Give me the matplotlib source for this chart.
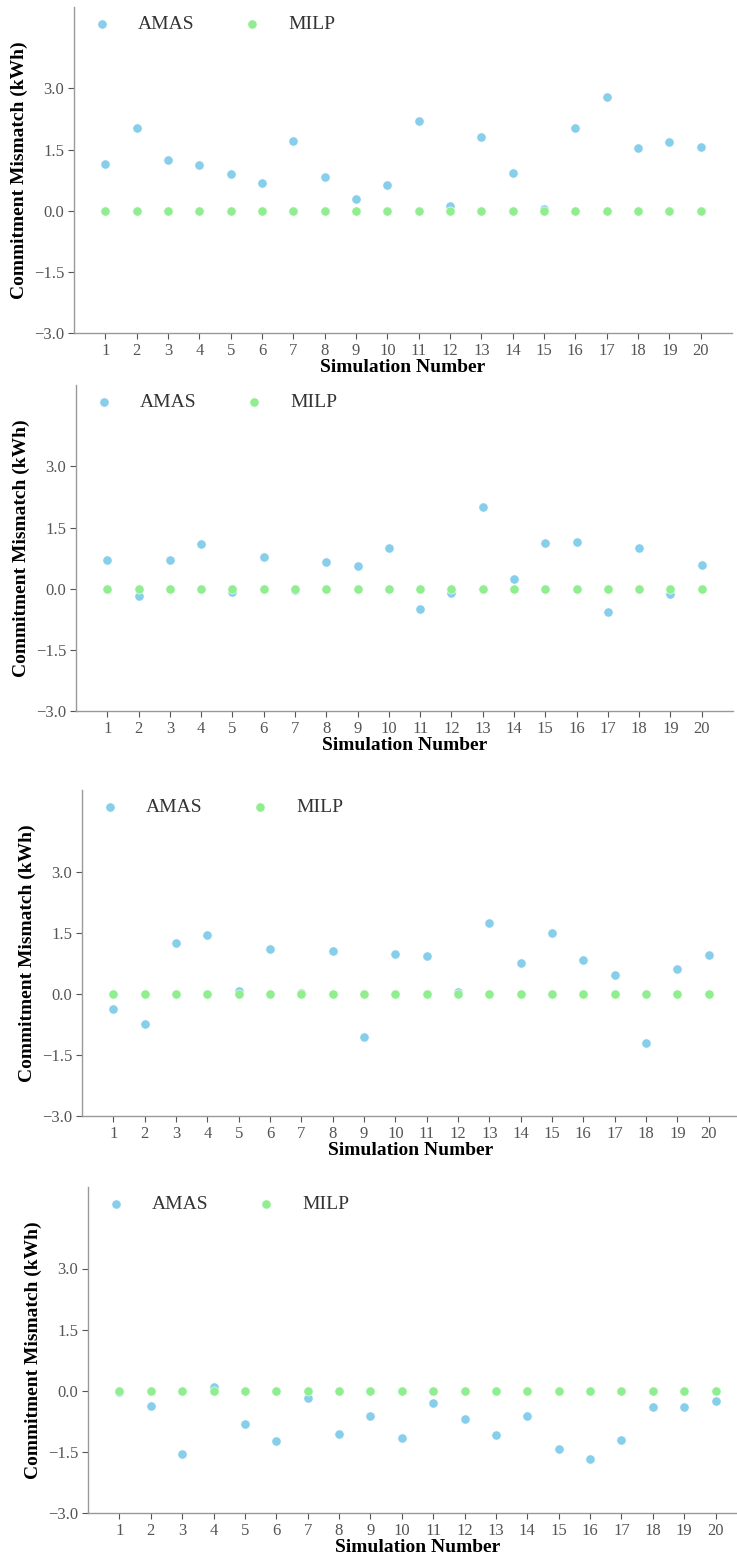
"""Commitment mismatch per simulation: AMAS vs MILP, four scenarios stacked."""

import matplotlib

matplotlib.use("Agg")
import matplotlib.pyplot as plt

sims = [1, 2, 3, 4, 5, 6, 7, 8, 9, 10, 11, 12, 13, 14, 15, 16, 17, 18, 19, 20]

amas_1 = [1.14, 2.04, 1.24, 1.12, 0.89, 0.68, 1.70, 0.84, 0.30, 0.63,
          2.21, 0.11, 1.80, 0.92, 0.04, 2.04, 2.80, 1.55, 1.68, 1.57]
amas_2 = [0.70, -0.18, 0.70, 1.10, -0.08, 0.78, -0.04, 0.65, 0.55, 1.01,
          -0.50, -0.11, 2.00, 0.23, 1.12, 1.14, -0.57, 0.99, -0.14, 0.59]
amas_3 = [-0.37, -0.75, 1.24, 1.44, 0.06, 1.10, 0.02, 1.06, -1.07, 0.97,
          0.92, 0.04, 1.74, 0.75, 1.50, 0.82, 0.46, -1.20, 0.61, 0.95]
amas_4 = [-0.03, -0.38, -1.55, 0.10, -0.82, -1.24, -0.19, -1.07, -0.61, -1.16,
          -0.29, -0.69, -1.09, -0.63, -1.43, -1.68, -1.22, -0.40, -0.40, -0.25]
milp = [0.0, 0.0, 0.0, 0.0, 0.0, 0.0, 0.0, 0.0, 0.0, 0.0,
        0.0, 0.0, 0.0, 0.0, 0.0, 0.0, 0.0, 0.0, 0.0, 0.0]

y_ticks = [-3.0, -1.5, 0.0, 1.5, 3.0]

AMAS_COLOR = "#87ceeb"
MILP_COLOR = "#90ee90"

plt.rcParams["font.family"] = ["Liberation Serif", "DejaVu Serif"]

W, H = 737, 1557
fig = plt.figure(figsize=(W / 100, H / 100), dpi=100)

# пиксельные рамки панелей: left, right, top, bottom
boxes = [
    (74, 732, 7, 333),
    (76, 733, 385, 711),
    (82, 740, 790, 1116),
    (88, 747, 1187, 1513),
]
series = [amas_1, amas_2, amas_3, amas_4]

for (l, r, t, b), amas in zip(boxes, series):
    ax = fig.add_axes([l / W, 1 - b / H, (r - l) / W, (b - t) / H])
    ax.scatter(sims, amas, s=44, color=AMAS_COLOR, edgecolor="white",
               linewidth=0.4, label="AMAS", zorder=3)
    ax.scatter(sims, milp, s=44, color=MILP_COLOR, edgecolor="white",
               linewidth=0.4, label="MILP", zorder=4)
    ax.set_xlim(0, 21)
    ax.set_ylim(-3, 5)
    ax.set_xticks(sims)
    ax.set_yticks(y_ticks)
    ax.set_yticklabels([f"{v:.1f}".replace("-", "\u2212") for v in y_ticks])
    ax.tick_params(colors="#555555", labelsize=12, length=4, width=0.8, pad=3)
    for side in ("top", "right"):
        ax.spines[side].set_visible(False)
    for side in ("left", "bottom"):
        ax.spines[side].set_color("#999999")
        ax.spines[side].set_linewidth(1.0)
    ax.set_xlabel("Simulation Number", fontsize=14, fontweight="bold", labelpad=0)
    ax.set_ylabel("Commitment Mismatch (kWh)", fontsize=14, fontweight="bold",
                  labelpad=4)
    leg = ax.legend(loc="upper left", bbox_to_anchor=(0.0, 1.0), ncol=2,
                    frameon=False, fontsize=14, handletextpad=0.85,
                    columnspacing=1.95, borderaxespad=0.0, borderpad=0.45)
    for txt in leg.get_texts():
        txt.set_color("#333333")

fig.savefig("out.png", dpi=100)
